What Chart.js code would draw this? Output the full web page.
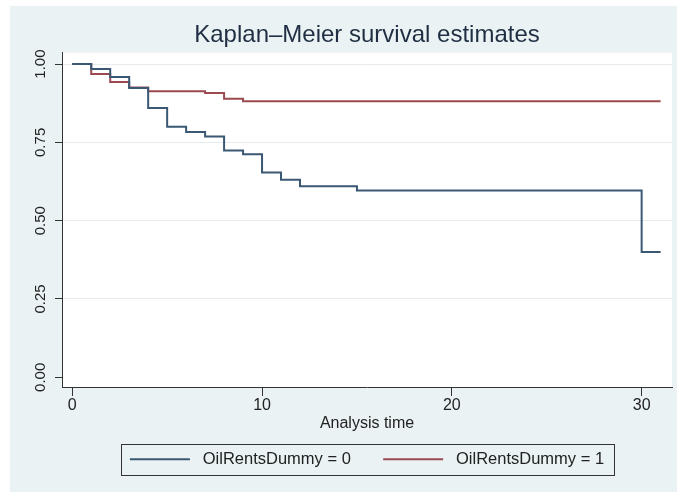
<!DOCTYPE html>
<html>
<head>
<meta charset="utf-8">
<script src="https://cdn.jsdelivr.net/npm/chart.js@4/dist/chart.umd.min.js"></script>
<style>
  html, body { margin: 0; padding: 0; background: #ffffff; }
  #wrap { width: 677px; height: 492px; }
</style>
</head>
<body>
<div id="wrap"><canvas id="km" width="677" height="492"></canvas></div>
<script>
// Kaplan-Meier steps
const times0 = [0, 1, 2, 3, 4, 5, 6, 7, 8, 9, 10, 11, 12, 15, 30, 31]
const surv0 = [1.0, 0.984, 0.959, 0.924, 0.86, 0.80, 0.783, 0.769, 0.724, 0.712, 0.654, 0.631, 0.61, 0.596, 0.40, 0.40]

const times1 = [0, 1, 2, 3, 4, 7, 8, 9, 31]
const surv1 = [1.0, 0.968, 0.943, 0.925, 0.913, 0.908, 0.889, 0.881, 0.881]

const groupLabels = ['OilRentsDummy = 0', 'OilRentsDummy = 1']
const xTickVals = [0, 10, 20, 30]
const yTickVals = [0, 0.25, 0.5, 0.75, 1]

const toPoints = (xs, ys) => xs.map((t, i) => ({ x: t, y: ys[i] }))

Chart.defaults.font.family = "'Liberation Sans', Arial, sans-serif"
Chart.defaults.color = '#333333'

// stata-ish backgrounds + the legend frame
const stataLook = {
    id: 'stataLook',
    beforeDraw(chart) {
        const c = chart.ctx
        const a = chart.chartArea
        c.save()
        c.fillStyle = '#ffffff'
        c.fillRect(0, 0, chart.width, chart.height)
        c.fillStyle = '#eaf2f3'
        c.fillRect(10, 6, chart.width - 10, chart.height - 6)
        c.fillStyle = '#ffffff'
        c.fillRect(a.left, a.top, a.right - a.left, a.bottom - a.top)
        c.restore()
    },
    afterDraw(chart) {
        const boxes = chart.legend && chart.legend.legendHitBoxes
        if (!boxes || !boxes.length) return
        const first = boxes[0]
        const last = boxes[boxes.length - 1]
        const cy = first.top + first.height / 2
        const c = chart.ctx
        c.save()
        c.strokeStyle = '#333333'
        c.lineWidth = 1
        c.strokeRect(Math.round(first.left - 9) + 0.5, Math.round(cy - 15.5) + 0.5,
            Math.round(last.left + last.width + 10 - first.left + 9), 31)
        c.restore()
    }
}

const config = {
    type: 'line',
    data: {
        datasets: [
            {
                label: groupLabels[0],
                data: toPoints(times0, surv0),
                borderColor: '#3a5873',
                backgroundColor: '#3a5873',
                borderWidth: 2,
                stepped: 'before',
                pointRadius: 0,
                fill: false
            },
            {
                label: groupLabels[1],
                data: toPoints(times1, surv1),
                borderColor: '#9a4a50',
                backgroundColor: '#9a4a50',
                borderWidth: 2,
                stepped: 'before',
                pointRadius: 0,
                fill: false
            }
        ]
    },
    options: {
        responsive: false,
        animation: false,
        layout: {
            padding: { left: 10, top: 6, right: 5, bottom: 14.5 }
        },
        plugins: {
            title: {
                display: true,
                text: 'Kaplan–Meier survival estimates',
                fullSize: false,
                color: '#1f2e42',
                font: { size: 24, weight: 'normal' },
                padding: { top: 15, bottom: 3 }
            },
            legend: {
                position: 'bottom',
                fullSize: false,
                labels: {
                    usePointStyle: true,
                    pointStyle: 'line',
                    pointStyleWidth: 60,
                    color: '#222222',
                    font: { size: 16.5 },
                    padding: 14,
                    generateLabels: (chart) => Chart.defaults.plugins.legend.labels.generateLabels(chart)
                        .map((l, i) => ({ ...l, text: ' ' + l.text + (i === 0 ? '    ' : '') }))
                }
            },
            tooltip: { enabled: false }
        },
        scales: {
            x: {
                type: 'linear',
                min: -0.54,
                max: 31.6,
                afterBuildTicks: (s) => { s.ticks = xTickVals.map(v => ({ value: v })) },
                afterFit: (s) => { s.height = 50 },
                border: { display: true, color: '#333333', width: 1 },
                grid: { drawOnChartArea: false, tickLength: 9, tickColor: '#333333' },
                ticks: { color: '#222222', font: { size: 16 }, padding: 0, maxRotation: 0 },
                title: {
                    display: true,
                    text: 'Analysis time',
                    color: '#222222',
                    font: { size: 16 },
                    padding: { top: 0, bottom: 4 }
                }
            },
            y: {
                min: -0.031,
                max: 1.036,
                afterBuildTicks: (s) => { s.ticks = yTickVals.map(v => ({ value: v })) },
                afterFit: (s) => { s.width = 52 },
                border: { display: true, color: '#333333', width: 1 },
                grid: {
                    color: (ctx) => (ctx.tick && ctx.tick.value === 0) ? 'rgba(0,0,0,0)' : '#e6ecee',
                    tickLength: 7,
                    tickColor: '#333333'
                },
                ticks: {
                    color: '#222222',
                    font: { size: 15 },
                    padding: 0,
                    minRotation: 90,
                    maxRotation: 90,
                    crossAlign: 'center',
                    callback: (v) => Number(v).toFixed(2)
                }
            }
        }
    },
    plugins: [stataLook]
}

new Chart(document.getElementById('km'), config)
</script>
</body>
</html>
